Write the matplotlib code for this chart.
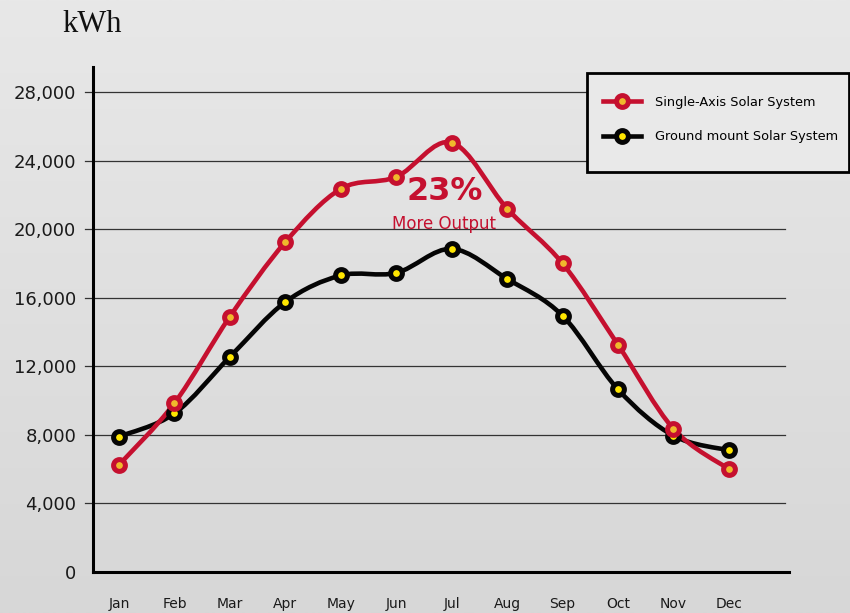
import matplotlib
matplotlib.use("Agg")
import matplotlib.pyplot as plt
import numpy as np
from matplotlib.path import Path
from matplotlib.patches import PathPatch, Rectangle
from matplotlib.lines import Line2D

months = ["Jan", "Feb", "Mar", "Apr", "May", "Jun",
          "Jul", "Aug", "Sep", "Oct", "Nov", "Dec"]
single_axis = [6250, 9850, 14900, 19250, 22350, 23050,
               25050, 21200, 18000, 13250, 8350, 6000]
ground_mount = [7900, 9250, 12550, 15750, 17300, 17450,
                18850, 17100, 14950, 10650, 7950, 7100]
y_ticks = [0, 4000, 8000, 12000, 16000, 20000, 24000, 28000]
y_labels = ["0", "4,000", "8,000", "12,000", "16,000", "20,000", "24,000", "28,000"]

RED = "#c5102f"
BLACK = "#050505"
RED_DOT = "#f0b92c"
BLACK_DOT = "#ffe600"
MS, MEW = 8.5, 3.6


def smooth_path(xs, ys):
    # Catmull-Rom curve turned into cubic bezier segments
    pts = list(zip(xs, ys))
    verts = [pts[0]]
    codes = [Path.MOVETO]
    n = len(pts)
    for i in range(n - 1):
        p0 = pts[max(i - 1, 0)]
        p1 = pts[i]
        p2 = pts[i + 1]
        p3 = pts[min(i + 2, n - 1)]
        c1 = (p1[0] + (p2[0] - p0[0]) / 6, p1[1] + (p2[1] - p0[1]) / 6)
        c2 = (p2[0] - (p3[0] - p1[0]) / 6, p2[1] - (p3[1] - p1[1]) / 6)
        verts += [c1, c2, p2]
        codes += [Path.CURVE4] * 3
    return Path(verts, codes)


fig = plt.figure(figsize=(8.5, 6.13), dpi=100)

# gradient background
bg = fig.add_axes([0, 0, 1, 1], zorder=-10)
grad = np.linspace(0, 1, 256).reshape(-1, 1)
bg.imshow(grad, aspect="auto", cmap=matplotlib.colors.LinearSegmentedColormap.from_list(
    "bg", ["#e8e8e8", "#d7d7d7"]), extent=[0, 1, 0, 1], origin="upper")
bg.axis("off")

ax = fig.add_axes([0.1094, 0.0669, 0.8186, 0.8238])
ax.set_facecolor("none")
x = np.arange(len(months))
ax.set_xlim(-0.469, 12.08)
ax.set_ylim(0, 29460)

for v in y_ticks[1:]:
    ax.plot([-0.011, 0.994], [v, v], transform=ax.get_yaxis_transform(),
            color="#333333", lw=0.9, clip_on=False, zorder=1)

styles = [(ground_mount, BLACK, BLACK_DOT), (single_axis, RED, RED_DOT)]
for series, col, inner in styles:
    ax.add_patch(PathPatch(smooth_path(x, series), facecolor="none",
                           edgecolor=col, lw=3.3, zorder=3, capstyle="round"))
for series, col, inner in styles:
    ax.plot(x, series, ls="none", marker="o", ms=MS, mew=MEW,
            mec=col, mfc=inner, zorder=4)

for side in ["top", "right"]:
    ax.spines[side].set_visible(False)
for side in ["left", "bottom"]:
    ax.spines[side].set_linewidth(2.2)
    ax.spines[side].set_color("black")

ax.set_yticks(y_ticks)
ax.set_yticklabels(y_labels, fontsize=13, color="#1a1a1a")
ax.set_xticks(x)
ax.set_xticklabels(months, fontsize=10, color="#1a1a1a")
ax.tick_params(axis="y", length=0, pad=12)
ax.tick_params(axis="x", length=0, pad=18)

ax.text(5.88, 22170, "23%", color=RED, fontsize=23, fontweight="bold",
        ha="center", va="center", zorder=5)
ax.text(5.86, 20300, "More Output", color=RED, fontsize=12,
        ha="center", va="center", zorder=5)

fig.text(0.073, 0.948, "kWh", fontsize=22, family="Liberation Serif",
         va="baseline", ha="left", color="#111111")

# legend box
fig.patches.append(Rectangle((587 / 850, 1 - 172 / 613), 262 / 850, 99 / 613,
                             transform=fig.transFigure, facecolor="#e9e9e9",
                             edgecolor="black", lw=2, zorder=5))
handles = [
    Line2D([], [], color=RED, lw=3.3, marker="o", ms=MS, mew=MEW, mec=RED, mfc=RED_DOT),
    Line2D([], [], color=BLACK, lw=3.3, marker="o", ms=MS, mew=MEW, mec=BLACK, mfc=BLACK_DOT),
]
leg = fig.legend(handles, ["Single-Axis Solar System", "Ground mount Solar System"],
                 loc="upper left", bbox_to_anchor=(603 / 850, 1 - 96 / 613),
                 fontsize=9.3, frameon=False, handlelength=2.95,
                 labelspacing=1.65, borderpad=0, handletextpad=1.1,
                 borderaxespad=0)
leg.set_zorder(6)

fig.savefig("out.png", dpi=100)
